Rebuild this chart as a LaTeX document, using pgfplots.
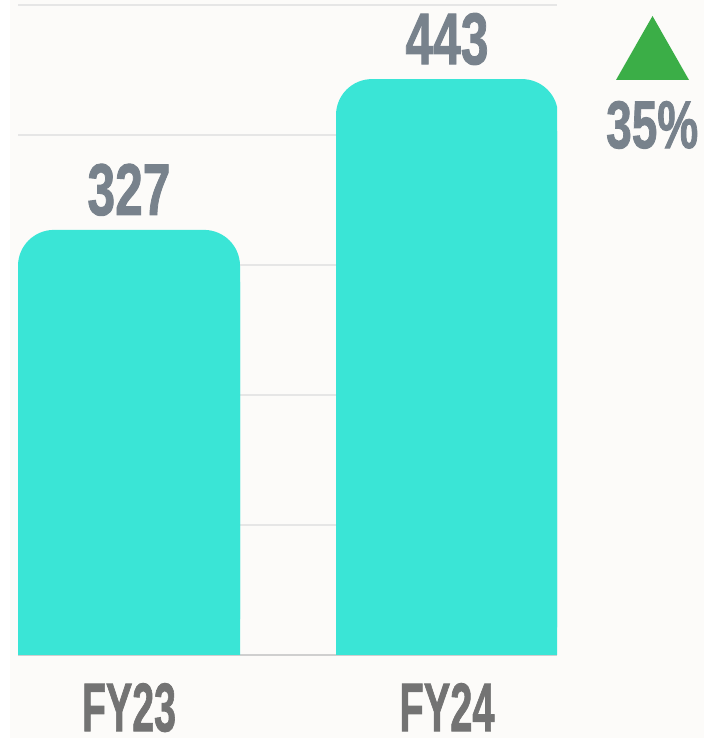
\documentclass[border=0pt]{standalone}
\usepackage{pgfplots}
\pgfplotsset{compat=1.18}
\usepackage{fontspec}
\setmainfont{Liberation Sans}
\newfontfamily\numfont[FakeBold=1.5]{Liberation Sans}
\definecolor{bgc}{HTML}{FCFBF9}
\definecolor{barc}{HTML}{3AE5D6}
\definecolor{numc}{HTML}{78828C}
\definecolor{labc}{HTML}{737373}
\definecolor{gridc}{HTML}{E6E6E6}
\definecolor{basec}{HTML}{CFCFCF}
\definecolor{upc}{HTML}{3BAE47}
\begin{document}
\begin{tikzpicture}[x=1bp,y=1bp]
\useasboundingbox (0,0) rectangle (704,738);
\clip (0,0) rectangle (704,738);
\fill[bgc] (0,0) rectangle (704,738);
\fill[white] (0,0) rectangle (10,738);
\begin{axis}[
  at={(18bp,83bp)}, anchor=south west,
  scale only axis, width=539bp, height=650bp,
  xmin=0, xmax=539, ymin=0, ymax=500,
  axis line style={draw=none},
  /pgf/number format/assume math mode=true,
  ytick={100,200,300,400,500}, yticklabels={},
  ymajorgrids, grid style={draw=gridc, line width=1.3bp},
  extra y ticks={0}, extra y tick labels={},
  extra y tick style={grid style={draw=basec, line width=1.3bp}},
  xtick={111,429},
  xticklabels={{\resizebox{94bp}{48bp}{\numfont\bfseries FY23}},{\resizebox{95bp}{48bp}{\numfont\bfseries FY24}}},
  major tick length=0pt,
  xticklabel style={anchor=north, inner sep=0pt, yshift=-28bp, text=labc},
  ybar, bar width=222,
]
\addplot[fill=barc, draw=none, bar shift=0pt, rounded corners=36bp,
  nodes near coords={\resizebox{83bp}{51bp}{\numfont\bfseries\pgfmathprintnumber[assume math mode=true]{\pgfplotspointmeta}}},
  every node near coord/.style={anchor=south, inner sep=0pt, yshift=14bp, text=numc, sharp corners}]
  coordinates {(111,327) (429,443)};
\addplot[fill=barc, draw=none, bar shift=0pt]
  table[x=x, y expr=\thisrow{y}-40] {
x y
111 327
429 443
};
\end{axis}
\fill[upc] (616,658) -- (689,658) -- (652.5,722) -- cycle;
\node[anchor=south west, inner sep=0pt, text=numc] at (606,589)
  {\resizebox{92bp}{47bp}{\numfont\bfseries 35\%}};
\end{tikzpicture}
\end{document}
